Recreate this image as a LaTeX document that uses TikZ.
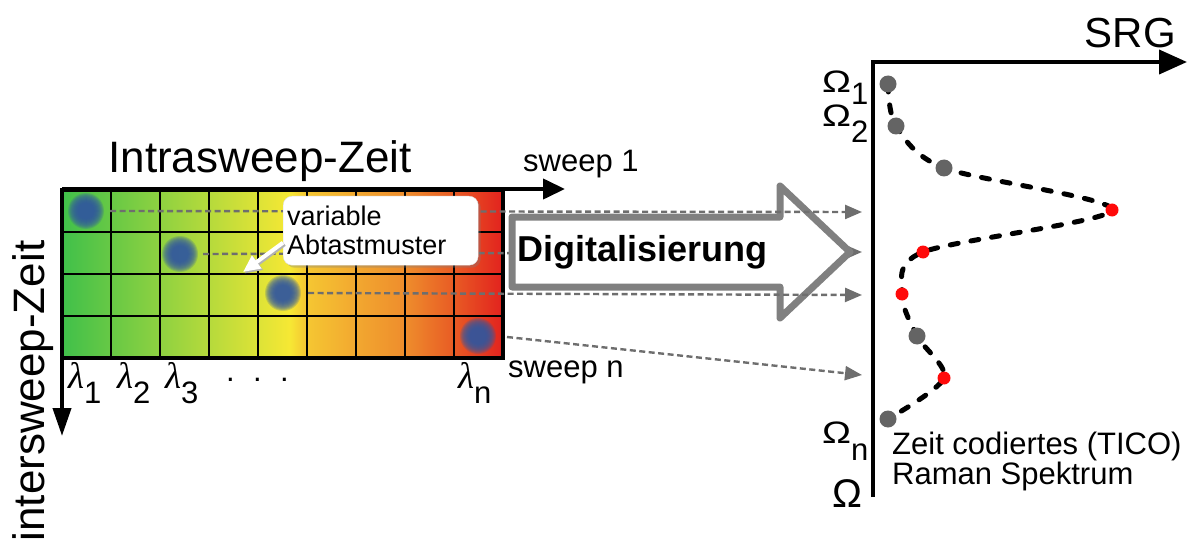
\documentclass[tikz,border=0pt]{standalone}
\usepackage{fontspec}
\setmainfont{Liberation Sans}
\newfontfamily\greekfont{Liberation Serif}
\usetikzlibrary{arrows.meta,shadows,positioning}

\definecolor{gridgreen}{RGB}{64,192,74}
\definecolor{gridyellow}{RGB}{246,232,52}
\definecolor{gridamber}{RGB}{245,200,50}
\definecolor{gridorange}{RGB}{242,168,48}
\definecolor{gridtangerine}{RGB}{238,140,44}
\definecolor{gridvermilion}{RGB}{232,90,36}
\definecolor{gridred}{RGB}{226,34,30}
\definecolor{blobblue}{RGB}{50,88,160}
\definecolor{linkgray}{RGB}{110,110,110}
\definecolor{arrowgray}{RGB}{128,128,128}
\definecolor{dotgray}{RGB}{100,100,100}
\definecolor{dotred}{RGB}{255,10,10}

\pgfdeclarehorizontalshading{sweepshade}{100bp}{color(0bp)=(gridgreen); color(25bp)=(gridgreen); color(50.8bp)=(gridyellow); color(52.5bp)=(gridamber); color(58.3bp)=(gridorange); color(64bp)=(gridtangerine); color(69.5bp)=(gridvermilion); color(75bp)=(gridred); color(100bp)=(gridred)}

\newcommand\lowidx[3][15pt]{#2\raisebox{-#1}{#3}}
\newcommand\lam[1]{\lowidx{{\fontsize{37}{37}\selectfont\greekfont\itshape λ}}{#1}}
\newcommand\omg{\scalebox{1.25}[1]{Ω}}

\begin{document}
\begin{tikzpicture}[x=1pt,y=-1pt,
  axis/.style={line width=4pt},
  cell line/.style={line width=2.8pt},
  link/.style={draw=linkgray,line width=2.4pt,dash pattern=on 6pt off 3.5pt,-{Triangle[length=17pt,width=14pt]}},
  text node/.style={inner sep=0pt},
  small text/.style={text node,font=\fontsize{31}{28}\selectfont},
  big text/.style={text node,font=\fontsize{44}{48}\selectfont},
  note/.style={text node,inner xsep=4pt,fill=white,draw=black!12,rounded corners=9pt,
    drop shadow={shadow xshift=2.5pt,shadow yshift=-2.5pt,opacity=.35},
    minimum width=195pt,minimum height=69pt,text width=187pt,align=left,
    font=\fontsize{27}{29}\selectfont},
  pointer/.style={white,line width=4pt,-{Triangle[length=17pt,width=15pt]}},
  spectrum/.style={line width=5pt,dash pattern=on 8pt off 13pt,line cap=round}]

  \useasboundingbox (0,0) rectangle (1188,548);

  % sampling grid
  \shade[shading=sweepshade] (62,190) rectangle (503,358);
  \foreach \i in {1,...,8}
    \draw[cell line] (62+49*\i,190) -- (62+49*\i,358);
  \foreach \j in {1,2,3}
    \draw[cell line] (62,190+42*\j) -- (503,190+42*\j);
  \draw[line width=3.5pt] (62,190) rectangle (503,358);

  % blurred sampling points
  \foreach \n/\x/\y in {1/86/211,2/180/254,3/283/293,4/478/336}{
    \coordinate (b\n) at (\x,\y);
    \foreach \r in {18,17,...,8}
      \fill[blobblue,opacity=.22] (b\n) circle (\r);
  }

  % axes of the grid
  \coordinate (o) at (62,189);
  \coordinate (sweep) at (565,189);
  \coordinate (inter) at (62,436);
  \draw[axis,-{Triangle[length=22pt,width=20pt]}] (o) -- (sweep);
  \draw[axis,-{Triangle[length=28pt,width=18pt]}] (o) -- (inter);

  \node[big text,anchor=base] (intra) at (260,173) {Intrasweep-Zeit};
  \node[big text,anchor=base,rotate=90] (intersweep) at (44,391) {intersweep-Zeit};
  \node[small text,anchor=base west] (s1) at (523,172) {sweep 1};
  \node[small text,anchor=base west] (sn) at (508,377) {sweep n};

  \node[small text,anchor=base west] (l1) at (68,388) {\lam{1}};
  \node[small text,anchor=base west] (l2) at (117,388) {\lam{2}};
  \node[small text,anchor=base west] (l3) at (165,388) {\lam{3}};
  \node[small text,anchor=base west] (ldots) at (226,381) {.\kern18.4pt.\kern18.4pt.};
  \node[small text,anchor=base west] (ln) at (458,388) {\lam{n}};

  % links to the spectrum
  \coordinate (t1) at (862,212);
  \coordinate (t2) at (862,252);
  \coordinate (t3) at (862,295);
  \coordinate (t4) at (862,375);
  \draw[link] ([xshift=23pt]b2) -- (t2);

  \draw[arrowgray,line width=7pt,line join=round,fill=white]
    (512,217) -- (780,217) -- (780,186) -- (850,252) -- (780,318) -- (780,287) -- (512,287) -- cycle;
  \node[text node,anchor=base west,font=\fontsize{36}{36}\selectfont\bfseries] (digi) at (517,261) {Digitalisierung};

  \draw[link] ([xshift=24pt]b1) -- (t1);
  \draw[link] ([xshift=25pt]b3) -- (t3);
  \draw[link] ([xshift=29pt,yshift=-1pt]b4) -- (t4);

  % callout
  \node[note,anchor=north west] (callout) at (283,196) {variable\\Abtastmuster};
  \coordinate (aim) at (243,272);
  \draw[pointer,black!30,transform canvas={xshift=1.5pt,yshift=-1.5pt}] ([yshift=-12pt]callout.west) -- (aim);
  \draw[pointer] ([yshift=-12pt]callout.west) -- (aim);

  % TICO spectrum
  \coordinate (s0) at (873,62);
  \coordinate (srg) at (1187,62);
  \coordinate (omega) at (873,497);
  \draw[axis,-{Triangle[length=28pt,width=24pt]}] (omega) -- (s0) -- (srg);
  \node[text node,anchor=base east,font=\fontsize{42}{42}\selectfont] (srglabel) at (1176,48) {SRG};

  \foreach \n/\x/\y in {1/888/84,2/896/126,3/944/168,4/1112/210,5/923/252,6/902/294,7/917/336,8/944/378,9/888/419}
    \coordinate (p\n) at (\x,\y);
  \draw[spectrum] plot[smooth,tension=.5] coordinates {(p1) (p2) (p3) (p4) (p5) (p6) (p7) (p8) (p9)};
  \foreach \n/\c/\r in {1/dotgray/8.5,2/dotgray/8.5,3/dotgray/8.5,4/dotred/6.5,5/dotred/6.5,6/dotred/6.5,7/dotgray/8.5,8/dotred/6.5,9/dotgray/8.5}
    \fill[\c] (p\n) circle (\r);

  \node[small text,anchor=base west] (om1) at (822,93) {\lowidx[12pt]{\omg}{1}};
  \node[small text,anchor=base west] (om2) at (822,127) {\lowidx[16pt]{\omg}{2}};
  \node[small text,anchor=base west] (omn) at (822,443) {\lowidx[17pt]{\omg}{n}};
  \node[text node,anchor=base west,font=\fontsize{40}{40}\selectfont] (om) at (832,507) {Ω};
  \node[small text,anchor=base west,align=left] (tico) at (892,484) {Zeit codiertes (TICO)\\Raman Spektrum};
\end{tikzpicture}
\end{document}
